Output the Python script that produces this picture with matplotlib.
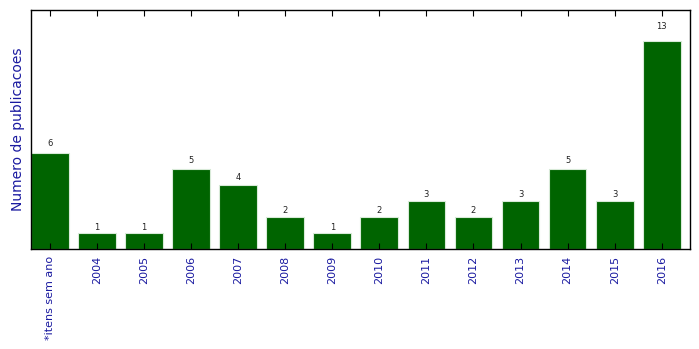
import numpy as np
import matplotlib.pyplot as plt

categories = ["*itens sem ano", "2004", "2005", "2006", "2007", "2008", "2009",
              "2010", "2011", "2012", "2013", "2014", "2015", "2016"]
counts = [6, 1, 1, 5, 4, 2, 1, 2, 3, 2, 3, 5, 3, 13]

fig = plt.figure(figsize=(6.99, 3.49), dpi=100)
ax = fig.add_axes([31 / 699, 1 - 249 / 349, 659 / 699, 239 / 349])

x = np.arange(len(categories))
bars = ax.bar(x, counts, width=0.8, color="#006400", edgecolor="#d8ead8", linewidth=0.8)

# value labels sit at 1.05 * height, like the original
for xi, c in zip(x, counts):
    ax.text(xi, 1.05 * c, str(c), ha="center", va="bottom", fontsize=6, color="#222222")

ax.set_xlim(-0.4, 13.6)
ax.set_ylim(0, 14.95)
ax.set_xticks(x)
ax.set_xticklabels(categories, rotation=90, fontsize=8, color="#1a1aa0")
ax.set_yticks([])
ax.tick_params(axis="x", direction="in", top=True, length=4, pad=5)
ax.set_ylabel("Numero de publicacoes", fontsize=10, color="#1a1aa0", labelpad=4)
for s in ax.spines.values():
    s.set_linewidth(1)

fig.savefig("out.png", dpi=100)
